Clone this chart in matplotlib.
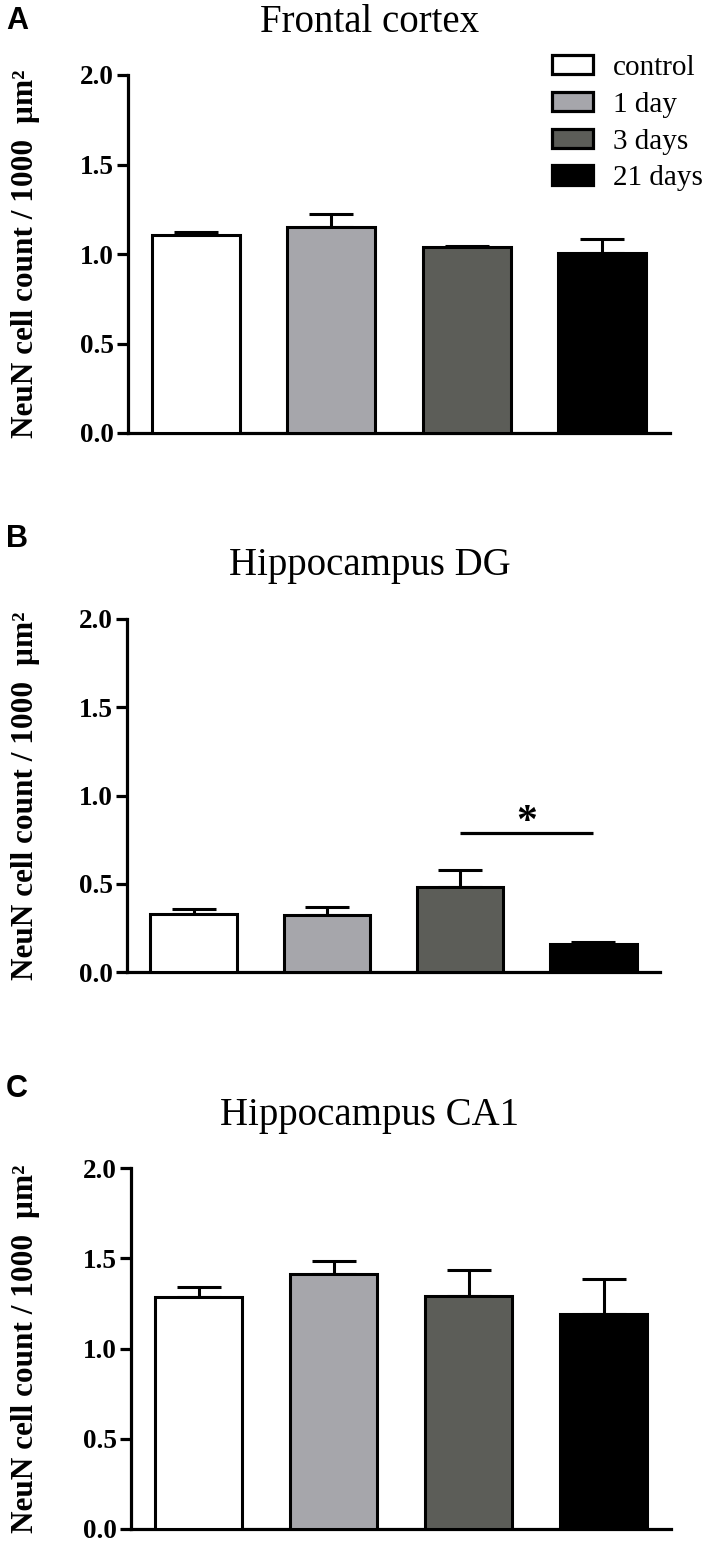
import matplotlib
matplotlib.use("Agg")
import matplotlib.pyplot as plt
from matplotlib.patches import Patch
from matplotlib.transforms import blended_transform_factory

# groups and bar colours
groups = ["control", "1 day", "3 days", "21 days"]
bar_colors = ["#ffffff", "#a6a6ab", "#5c5d58", "#000000"]

# NeuN cell count / 1000 um^2, mean and upper SEM per region
frontal_mean = [1.107, 1.152, 1.038, 1.005]
frontal_err = [0.015, 0.070, 0.009, 0.080]
dg_mean = [0.330, 0.323, 0.484, 0.160]
dg_err = [0.028, 0.045, 0.092, 0.008]
ca1_mean = [1.286, 1.414, 1.292, 1.190]
ca1_err = [0.054, 0.071, 0.145, 0.193]

titles = ["Frontal cortex", "Hippocampus DG", "Hippocampus CA1"]
letters = ["A", "B", "C"]
yticks = [0.0, 0.5, 1.0, 1.5, 2.0]
ylabel = "NeuN cell count / 1000  \u00b5m\u00b2"

# significance bracket in DG: 3 days vs 21 days
sig_pair = (2, 3)
sig_y = 0.785
sig_text = "*"

W, H = 708, 1542
plt.rcParams["font.family"] = ["Liberation Serif", "DejaVu Serif"]

fig = plt.figure(figsize=(W / 100, H / 100), dpi=100)


def px_axes(left, right, top, bottom):
    return fig.add_axes([left / W, 1 - bottom / H, (right - left) / W, (bottom - top) / H])


def draw_panel(ax, means, errs):
    x = range(len(means))
    ax.bar(x, means, width=0.65, color=bar_colors, edgecolor="black",
           linewidth=2.2, zorder=3)
    ax.errorbar(x, means, yerr=[[0] * len(errs), errs], fmt="none",
                ecolor="black", elinewidth=2.2, capsize=16, capthick=2.2, zorder=2)
    ax.set_xlim(-0.5, 3.5)
    ax.set_ylim(0, 2.0)
    ax.set_yticks(yticks)
    ax.set_yticklabels([f"{t:.1f}" for t in yticks], fontsize=19.5, fontweight="bold")
    ax.set_xticks([])
    for s in ("top", "right"):
        ax.spines[s].set_visible(False)
    for s in ("left", "bottom"):
        ax.spines[s].set_linewidth(2.3)
    ax.tick_params(axis="y", length=8, width=2.3, pad=2)
    ax.set_ylabel(ylabel, fontsize=22.5, fontweight="bold", va="center")
    ax.yaxis.set_label_coords(26 / W, 0.5,
                              transform=blended_transform_factory(fig.transFigure, ax.transAxes))


axA = px_axes(128, 670, 75, 433)
axB = px_axes(127, 660, 619, 972)
axC = px_axes(131, 671, 1168, 1529)

draw_panel(axA, frontal_mean, frontal_err)
draw_panel(axB, dg_mean, dg_err)
draw_panel(axC, ca1_mean, ca1_err)

# significance line + star
axB.plot(sig_pair, [sig_y, sig_y], color="black", lw=2.3, solid_capstyle="butt")
axB.text(sum(sig_pair) / 2, sig_y, sig_text, ha="center", va="baseline",
         fontsize=30, fontweight="bold")

# titles and panel letters
title_base = [32, 575, 1125]
letter_base = [29, 547, 1097]
for t, tb, l, lb in zip(titles, title_base, letters, letter_base):
    fig.text(370 / W, 1 - tb / H, t, ha="center", va="baseline", fontsize=28)
    fig.text(6 / W, 1 - lb / H, l, ha="left", va="baseline", fontsize=22,
             fontweight="bold", family="Liberation Sans")

handles = [Patch(facecolor=c, edgecolor="black", linewidth=2.3) for c in bar_colors]
fig.legend(handles, groups, loc="upper left", bbox_to_anchor=(552 / W, 1 - 55 / H),
           frameon=False, fontsize=21, borderpad=0, borderaxespad=0,
           handlelength=1.4, handleheight=0.65, handletextpad=0.7, labelspacing=0.37)

fig.savefig("out.png", dpi=100)
